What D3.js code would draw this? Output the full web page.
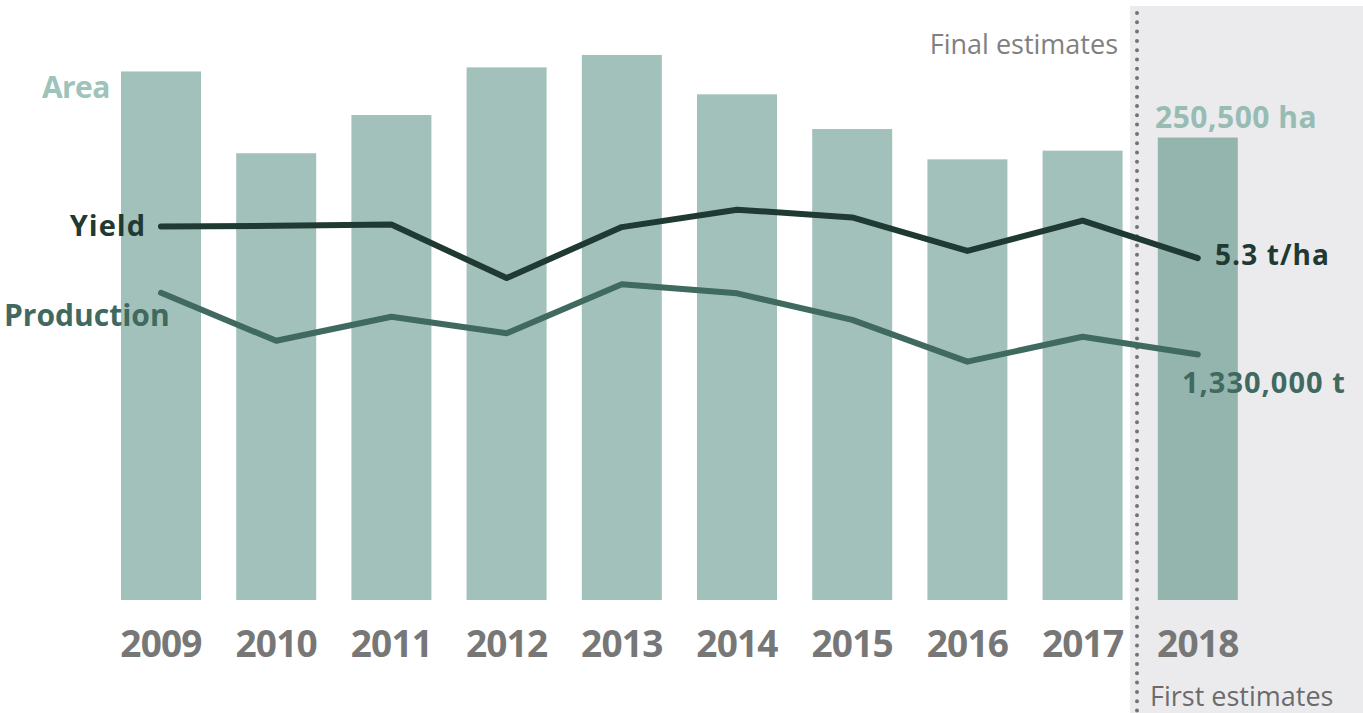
<!DOCTYPE html>
<html>
<head>
<meta charset="utf-8">
<script src="https://cdn.jsdelivr.net/npm/d3@7"></script>
<style>
  html, body { margin: 0; padding: 0; background: #ffffff; }
  svg { display: block; font-family: "Open Sans", "Noto Sans", sans-serif; }
</style>
</head>
<body>
<svg id="chart" width="1363" height="713"></svg>
<script>
// Harvest years
const years = ["2009", "2010", "2011", "2012", "2013", "2014", "2015", "2016", "2017", "2018"];
// Cultivated area (ha)
const area = [286300, 242000, 262700, 288500, 295200, 273900, 255100, 238700, 243400, 250500];
// Total production (t)
const production = [1664000, 1404000, 1534000, 1445000, 1710000, 1661000, 1517000, 1291000, 1426000, 1330000];
// Yield (t/ha)
const yieldPerHa = [5.79, 5.80, 5.82, 4.99, 5.78, 6.05, 5.93, 5.41, 5.88, 5.30];
// The last year is a first estimate, the others are final
const firstEstimateYear = "2018";

const svg = d3.select("#chart");
const W = 1363, H = 713;
const baseY = 600, topY = 0;

const x = d3.scaleBand()
  .domain(years)
  .range([103.4, 1255.4])
  .paddingInner(0.3056)
  .paddingOuter(0.1528);

const yArea = d3.scaleLinear().domain([0, 325000]).range([baseY, topY]);
const yProd = d3.scaleLinear().domain([0, 3250000]).range([baseY, topY]);
const yYield = d3.scaleLinear().domain([0, 9.3]).range([baseY, topY]);

const cx = d => x(d) + x.bandwidth() / 2;
const lastIdx = years.indexOf(firstEstimateYear);

// Shaded panel behind the first-estimate year
svg.append("rect")
  .attr("x", 1130).attr("y", 6)
  .attr("width", W - 1130).attr("height", H - 6)
  .attr("fill", "#ebebee");

// Area bars
svg.append("g").selectAll("rect")
  .data(years)
  .join("rect")
  .attr("x", d => x(d))
  .attr("width", x.bandwidth())
  .attr("y", (d, i) => yArea(area[i]))
  .attr("height", (d, i) => baseY - yArea(area[i]))
  .attr("fill", d => d === firstEstimateYear ? "#94b4ae" : "#a2c1bb");

// Dotted divider between final and first estimates
svg.append("line")
  .attr("x1", 1137).attr("x2", 1137)
  .attr("y1", 13).attr("y2", H)
  .attr("stroke", "#747474")
  .attr("stroke-width", 4)
  .attr("stroke-linecap", "round")
  .attr("stroke-dasharray", "0 9.3");

// Production and yield lines
const lineProd = d3.line().x((d, i) => cx(years[i])).y(d => yProd(d));
const lineYield = d3.line().x((d, i) => cx(years[i])).y(d => yYield(d));

svg.append("path")
  .attr("d", lineProd(production))
  .attr("fill", "none")
  .attr("stroke", "#40695f")
  .attr("stroke-width", 6)
  .attr("stroke-linecap", "round")
  .attr("stroke-linejoin", "round");

svg.append("path")
  .attr("d", lineYield(yieldPerHa))
  .attr("fill", "none")
  .attr("stroke", "#1f3933")
  .attr("stroke-width", 6)
  .attr("stroke-linecap", "round")
  .attr("stroke-linejoin", "round");

// Year axis
const xAxis = svg.append("g")
  .attr("transform", `translate(0,${baseY})`)
  .call(d3.axisBottom(x).tickSize(0).tickPadding(0));
xAxis.select(".domain").remove();
xAxis.selectAll("text")
  .attr("y", 57)
  .attr("dy", null)
  .attr("font-family", "'Open Sans', sans-serif")
  .attr("font-size", 37)
  .attr("font-weight", 700)
  .attr("fill", "#777777")
  .attr("letter-spacing", -0.8);

// Series labels
const labels = svg.append("g").attr("font-weight", 700);
labels.append("text").attr("x", 42).attr("y", 98)
  .attr("font-size", 30).attr("fill", "#9dc3ba").attr("letter-spacing", -0.6).text("Area");
labels.append("text").attr("x", 146).attr("y", 236).attr("text-anchor", "end")
  .attr("font-size", 29).attr("fill", "#1f3933").attr("letter-spacing", 1).text("Yield");
labels.append("text").attr("x", 4).attr("y", 326)
  .attr("font-size", 30).attr("fill", "#40695f").text("Production");

// Value labels for the latest year
const fmt = d3.format(",");
labels.append("text").attr("x", 1155).attr("y", yArea(area[lastIdx]) - 10)
  .attr("font-size", 30).attr("fill", "#97bcb4").attr("letter-spacing", 0.5)
  .text(fmt(area[lastIdx]) + " ha");
labels.append("text").attr("x", 1215).attr("y", yYield(yieldPerHa[lastIdx]) + 7)
  .attr("font-size", 28).attr("fill", "#1f3933").attr("letter-spacing", 1.1)
  .text(yieldPerHa[lastIdx].toFixed(1) + " t/ha");
labels.append("text").attr("x", 1182).attr("y", yProd(production[lastIdx]) + 39)
  .attr("font-size", 29).attr("fill", "#40695f").attr("letter-spacing", 1)
  .text(fmt(production[lastIdx]) + " t");

// Estimate annotations
svg.append("text").attr("x", 1118).attr("y", 54).attr("text-anchor", "end")
  .attr("font-size", 27).attr("fill", "#808080").text("Final estimates");
svg.append("text").attr("x", 1150).attr("y", 706)
  .attr("font-size", 27).attr("fill", "#6b6b6b").text("First estimates");
</script>
</body>
</html>
